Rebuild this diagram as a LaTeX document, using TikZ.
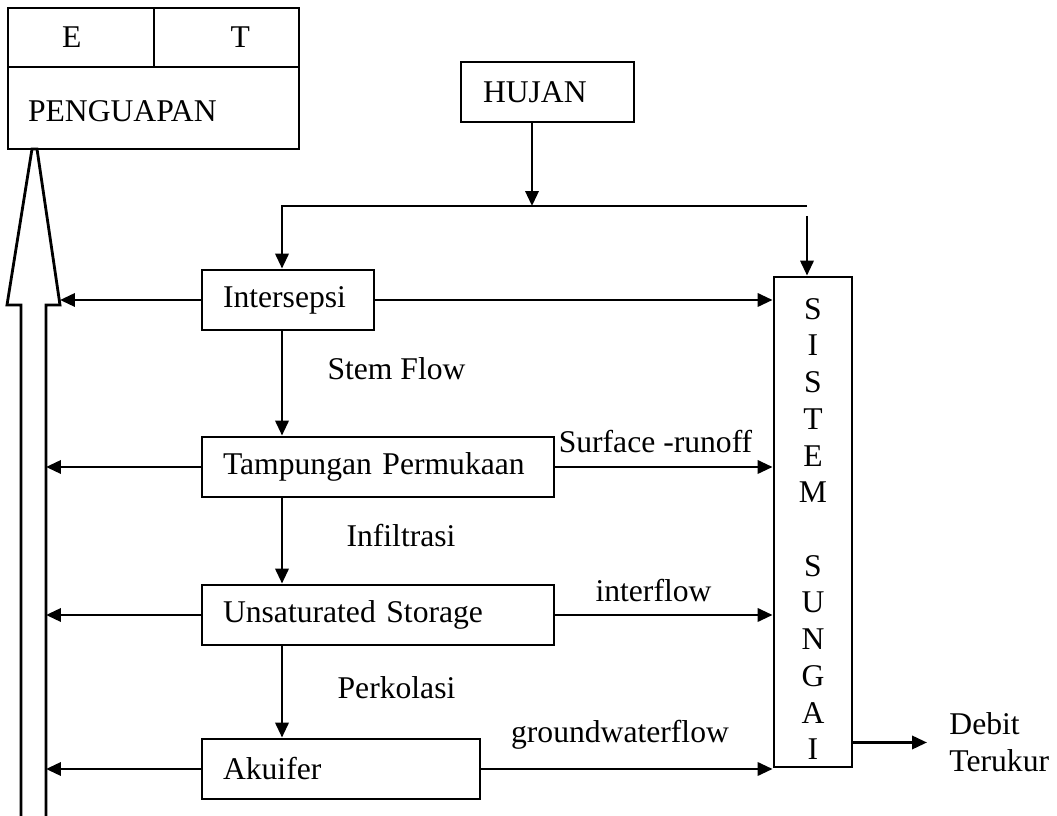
\documentclass[tikz,border=0pt]{standalone}
\usepackage{fontspec}
\setmainfont{Liberation Serif}
\usetikzlibrary{arrows.meta}

\begin{document}
\begin{tikzpicture}[
		line width=1.6pt,
		every node/.style={font=\fontsize{18}{20.9}\selectfont},
		kotak/.style={draw, minimum height=1.2cm, inner xsep=0.42cm, align=left},
		flow/.style={-{Triangle[length=8.5pt,width=7.5pt]}},
		ket/.style={anchor=base}]
		\useasboundingbox (0,0) rectangle (21.14,16.32);
		% penguapan table
		\node[draw, minimum height=1.18cm, inner xsep=1.08cm, text width=0.76cm, align=left] (ecel) at (1.62,15.57) {E};
		\node[draw, minimum height=1.18cm, inner xsep=0.98cm, text width=0.94cm, align=right] (tcel) at (4.53,15.57) {T};
		\node[kotak, minimum height=1.64cm, inner xsep=0.4cm, text width=5.02cm, text height=0.56cm] (penguapan) at (3.07,14.16) {PENGUAPAN};
		\node[kotak, inner xsep=0.44cm, text width=2.58cm] (hujan) at (10.95,14.48) {HUJAN};
		% storages
		\node[kotak, text width=2.60cm] (intersepsi) at (5.76,10.32) {Intersepsi};
		\node[kotak, text width=6.20cm] (tampungan) at (7.56,6.98) {Tampungan Permukaan};
		\node[kotak, text width=6.20cm] (unsaturated) at (7.56,4.02) {Unsaturated Storage};
		\node[kotak, text width=4.72cm] (akuifer) at (6.82,0.94) {Akuifer};
		\node[draw, minimum width=1.56cm, minimum height=9.8cm,
			label={[align=center, yshift=-0.14cm]center:S\\I\\S\\T\\E\\M\\\mbox{}\\S\\U\\N\\G\\A\\I}] (sistem) at (16.26,5.88) {};
		\node[anchor=west, inner xsep=0.42cm, align=left] (debit) at (18.54,1.47) {Debit\\Terukur};
		% labels
		\node[ket] (stemflow) at (7.93,8.72) {Stem Flow};
		\node[ket] (infiltrasi) at (8.02,5.38) {Infiltrasi};
		\node[ket] (perkolasi) at (7.93,2.34) {Perkolasi};
		\node[ket] (runoff) at (13.11,7.26) {Surface -runoff};
		\node[ket] (interflow) at (13.07,4.28) {interflow};
		\node[ket] (gwflow) at (12.40,1.46) {groundwaterflow};
		\coordinate (split) at (10.64,12.20);
		\coordinate (busl) at (5.64,12.20);
		\coordinate (busr) at (16.14,12.20);
		\coordinate (dropr) at (16.14,12.00);
		\coordinate (headr) at (1.20,10.22);
		\coordinate (shaftr) at (0.92,0);
		% big hollow arrow up to penguapan
		\draw (0.42,0) -- (0.42,10.22) -- (0.14,10.22) -- (0.64,13.34) -- (0.74,13.34) -- (headr) -- (0.92,10.22) -- (shaftr);
		% rain
		\draw[flow] (hujan.south -| split) -- (split);
		\draw[flow] (busr) -- (busl) -- (intersepsi.north -| busl);
		\draw[flow] (dropr) -- (dropr |- sistem.north);
		% downwards
		\draw[flow] (intersepsi.south -| busl) -- (tampungan.north -| busl);
		\draw[flow] (tampungan.south -| busl) -- (unsaturated.north -| busl);
		\draw[flow] (unsaturated.south -| busl) -- (akuifer.north -| busl);
		% evaporation
		\draw[flow] (intersepsi.west) -- (intersepsi.west -| headr);
		\draw[flow] (tampungan.west) -- (tampungan.west -| shaftr);
		\draw[flow] (unsaturated.west) -- (unsaturated.west -| shaftr);
		\draw[flow] (akuifer.west) -- (akuifer.west -| shaftr);
		% to the river
		\draw[flow] (intersepsi.east) -- (intersepsi.east -| sistem.west);
		\draw[flow] (tampungan.east) -- (tampungan.east -| sistem.west);
		\draw[flow] (unsaturated.east) -- (unsaturated.east -| sistem.west);
		\draw[flow] (akuifer.east) -- (akuifer.east -| sistem.west);
		\draw[flow] (sistem.east |- debit.west) -- (debit.west);
\end{tikzpicture}
\end{document}
